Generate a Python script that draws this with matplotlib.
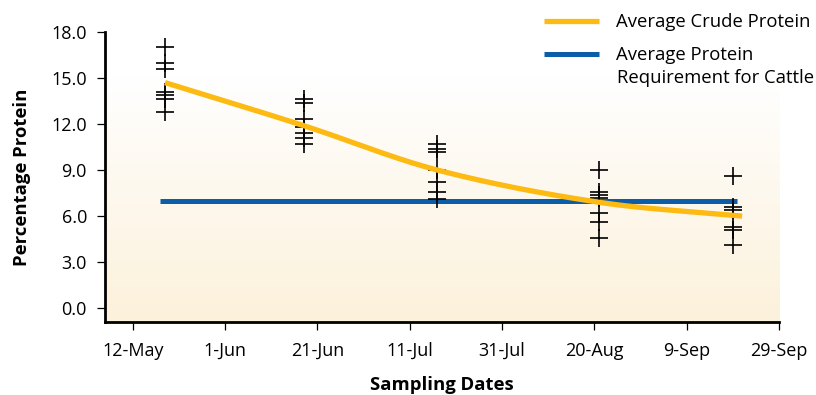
import numpy as np
import pandas as pd
import matplotlib
matplotlib.use("Agg")
import matplotlib.pyplot as plt
import matplotlib.dates as mdates

# Datos
fechas_muestreo = ["2010-05-19", "2010-06-18", "2010-07-17", "2010-08-21", "2010-09-19"]
proteina_muestras = [
    [17.0, 16.0, 15.6, 14.1, 13.9, 13.6, 12.8],
    [13.6, 13.4, 12.3, 11.8, 11.4, 11.1, 10.7],
    [10.7, 10.4, 10.2, 9.0, 8.2, 7.6, 7.1],
    [9.0, 7.6, 7.4, 7.2, 6.2, 5.6, 4.6],
    [8.6, 6.6, 6.4, 5.3, 5.1, 4.1],
]
fechas_promedio = ["2010-05-19", "2010-06-18", "2010-07-17", "2010-08-21", "2010-09-21"]
promedio_proteina = [14.7, 11.9, 9.0, 6.9, 6.0]
fechas_requerimiento = ["2010-05-18", "2010-09-20"]
requerimiento = [7.0, 7.0]

ticks_x = ["2010-05-12", "2010-06-01", "2010-06-21", "2010-07-11",
           "2010-07-31", "2010-08-20", "2010-09-09", "2010-09-29"]
etiquetas_x = ["12-May", "1-Jun", "21-Jun", "11-Jul", "31-Jul", "20-Aug", "9-Sep", "29-Sep"]
ticks_y = [0, 3, 6, 9, 12, 15, 18]

amarillo = "#FDBA12"
azul = "#0B5DA8"

plt.rcParams['font.family'] = ['Open Sans', 'DejaVu Sans']

fig = plt.figure(figsize=(8.16, 3.95), dpi=100)
ax = fig.add_axes([0.1287, 0.185, 0.826, 0.734])

# Fondo degradado blanco -> crema
grad = np.linspace(0, 1, 256).reshape(-1, 1)
c_top = np.array([1.0, 1.0, 1.0])
c_bot = np.array([252, 241, 219]) / 255
w = np.clip((grad - 0.15) / 0.85, 0, 1)
colores = c_top * (1 - w[..., None]) + c_bot * w[..., None]
ax.imshow(colores, extent=[0, 1, 0, 1], transform=ax.transAxes, aspect="auto",
          origin="upper", zorder=0)

# Puntos de muestreo
for f, vals in zip(fechas_muestreo, proteina_muestras):
    xs = [pd.Timestamp(f)] * len(vals)
    ax.plot(xs, vals, linestyle="none", marker="+", color="black",
            markersize=12.5, markeredgewidth=1.2, zorder=3)

# Curva suave del promedio (Hermite cubico)
xp = mdates.date2num(pd.to_datetime(fechas_promedio))
yp = np.array(promedio_proteina)
m = np.zeros_like(yp)
m[0] = (yp[1] - yp[0]) / (xp[1] - xp[0])
m[-1] = (yp[-1] - yp[-2]) / (xp[-1] - xp[-2])
for i in range(1, len(yp) - 1):
    m[i] = (yp[i + 1] - yp[i - 1]) / (xp[i + 1] - xp[i - 1])
cx, cy = [], []
for i in range(len(yp) - 1):
    h = xp[i + 1] - xp[i]
    t = np.linspace(0, 1, 60)
    h00 = 2 * t**3 - 3 * t**2 + 1
    h10 = t**3 - 2 * t**2 + t
    h01 = -2 * t**3 + 3 * t**2
    h11 = t**3 - t**2
    cx.extend(xp[i] + t * h)
    cy.extend(h00 * yp[i] + h10 * h * m[i] + h01 * yp[i + 1] + h11 * h * m[i + 1])
l1, = ax.plot(mdates.num2date(cx), cy, color=amarillo, linewidth=3.8,
              solid_capstyle="butt", zorder=4)

l2, = ax.plot(pd.to_datetime(fechas_requerimiento), requerimiento, color=azul, linewidth=3.6,
              solid_capstyle="butt", zorder=2)

ax.set_xlim(pd.Timestamp("2010-05-06"), pd.Timestamp("2010-09-29"))
ax.set_ylim(-0.9, 18)
ax.set_xticks(pd.to_datetime(ticks_x))
ax.set_xticklabels(etiquetas_x)
ax.set_yticks(ticks_y)
ax.set_yticklabels([f"{v:.1f}" for v in ticks_y])

for s in ["top", "right"]:
    ax.spines[s].set_visible(False)
ax.spines["left"].set_bounds(-0.9, 18)
for s in ["left", "bottom"]:
    ax.spines[s].set_linewidth(2.0)
ax.tick_params(direction="out", length=6, width=0.9, labelsize=13, pad=7)
ax.tick_params(axis="x", pad=8.5)

ax.set_ylabel("Percentage Protein", fontsize=13.3, fontweight="bold")
ax.set_xlabel("Sampling Dates", fontsize=13.3, fontweight="bold")
ax.yaxis.set_label_coords(-0.11, 0.5)
ax.xaxis.set_label_coords(0.5, -0.185)

# Leyenda: la segunda linea del texto va aparte para alinear la linea azul con la primera
leg = fig.legend([l1, l2], ["Average Crude Protein", "Average Protein"],
                 loc="upper left", bbox_to_anchor=(0.6667, 0.967), frameon=False,
                 fontsize=13.3, handlelength=3.0, handletextpad=0.9, labelspacing=0.82,
                 borderpad=0, borderaxespad=0)
fig.text(617 / 816, 1 - 78 / 395, "Requirement for Cattle", fontsize=13.3,
         ha="left", va="center")

fig.savefig("out.png", dpi=100)
